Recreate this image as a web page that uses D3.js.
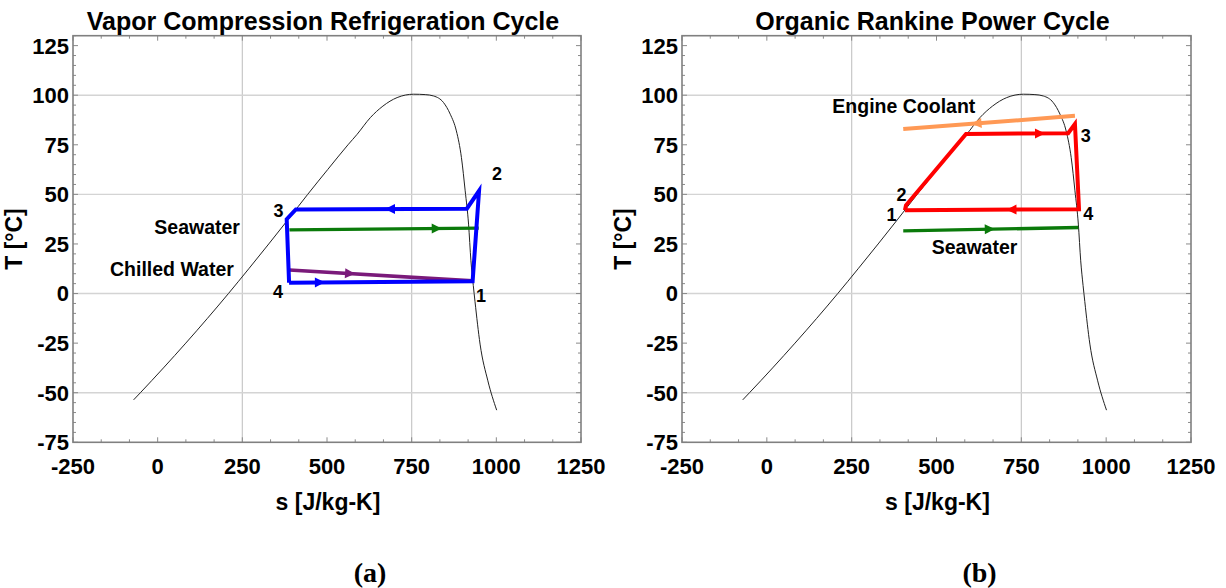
<!DOCTYPE html>
<html>
  <head>
    <title>T-s Diagrams</title>
    <style>
      body { margin: 0; background: #fff; }
      text { font-family: "Liberation Sans", Arial, sans-serif; font-weight: bold; fill: #000; }
      .caption { font-family: "Liberation Serif", "Times New Roman", serif; }
    </style>
  </head>

  <body>
    <div id="chart"></div>

    <script src="https://d3js.org/d3.v7.min.js" type="text/javascript"></script>

<script>

  // axis ticks
  var sTicks = [-250, 0, 250, 500, 750, 1000, 1250];
  var tTicks = [-75, -50, -25, 0, 25, 50, 75, 100, 125];
  var sGrid = [250, 750];
  var tGrid = [-50, 0, 50, 100];

  // saturation dome [s, T]
  var dome = [
    [-71, -53.6], [-51, -50], [17, -37.5], [83, -25], [147, -12.5], [209, 0],
    [269, 12.5], [328, 25], [386, 37.5], [443, 50], [502, 62.5], [562, 75],
    [589, 80.3], [628, 88.7], [665, 94.5], [707, 98.8], [756, 100.5], [790, 100.3],
    [815, 99.6], [844, 96.3], [864, 90.4], [882, 82], [897, 68.5],
    [908, 51.8], [918, 35], [925, 16.5], [932, 4], [937, -4], [952, -25.5],
    [975, -44], [1001, -58.8]
  ];

  // (a) vapor compression refrigeration cycle
  var vcrCycle = [[388, 5.5], [930, 6.2], [949, 51.8], [913, 42.8], [408, 42.4], [381, 37.5], [388, 5.5]];
  var vcrSeawater = [[389, 32.1], [948, 33]];
  var vcrChilled = [[389, 11.9], [930, 6.4]];
  var vcrArrows = [[479, 5.8, 1], [686, 42.6, -1], [824, 32.8, 1], [568, 10.1, 1]];
  var vcrLabels = [["Seawater", 243, 33.6, "end"], ["Chilled Water", 225, 12.4, "end"]];
  var vcrPoints = [["1", 955, -1.2], ["2", 1002, 60.5], ["3", 357, 42], ["4", 355, 0.9]];

  // (b) organic rankine power cycle
  var orcCycle = [[407, 42], [410, 44.5], [587, 80.5], [888, 80.8], [908, 85.5], [920, 42.5], [407, 42]];
  var orcCoolant = [[402, 82.9], [908, 89.6]];
  var orcSeawater = [[402, 31.6], [918, 33.3]];
  var orcArrows = [[805, 80.7, 1], [721, 42.2, -1], [618, 85.6, -1], [657, 32.5, 1]];
  var orcLabels = [["Engine Coolant", 193, 94.4, "start"], ["Seawater", 486, 23.3, "start"]];
  var orcPoints = [["1", 367.5, 40], ["2", 397, 50], ["3", 940, 79.8], ["4", 947, 40.3]];

  var W = 1226, H = 588;
  var plotTop = 35.7, plotBottom = 442.3;

  var svg = d3.select('#chart')
    .append('svg')
    .attr("width", W)
    .attr("height", H);

  function drawPanel(opts) {
    var x = d3.scaleLinear().domain([-250, 1250]).range([opts.left, opts.right]);
    var y = d3.scaleLinear().domain([-75, 130]).range([plotBottom, plotTop]);
    var g = svg.append("g");

    // grid
    g.selectAll(".vgrid").data(sGrid).enter().append("line")
      .attr("x1", function(d){return x(d);}).attr("x2", function(d){return x(d);})
      .attr("y1", plotTop).attr("y2", plotBottom)
      .attr("stroke", "#c8c8c8").attr("stroke-width", 1.2);
    g.selectAll(".hgrid").data(tGrid).enter().append("line")
      .attr("y1", function(d){return y(d);}).attr("y2", function(d){return y(d);})
      .attr("x1", opts.left).attr("x2", opts.right)
      .attr("stroke", "#d4d4d4").attr("stroke-width", 1.4);

    // minor/major ticks on all four sides, inward
    var sMinor = d3.range(-250, 1250.1, 250 / 3);
    var tMinor = d3.range(-75, 130.1, 5);
    var tk = g.append("g").attr("stroke", "#8a8a8a").attr("stroke-width", 1);
    sMinor.forEach(function(d, i) {
      var len = (i % 3 === 0) ? 5 : 3;
      tk.append("line").attr("x1", x(d)).attr("x2", x(d)).attr("y1", plotBottom).attr("y2", plotBottom - len);
      tk.append("line").attr("x1", x(d)).attr("x2", x(d)).attr("y1", plotTop).attr("y2", plotTop + len);
    });
    tMinor.forEach(function(d, i) {
      var len = (i % 5 === 0) ? 5 : 3;
      tk.append("line").attr("y1", y(d)).attr("y2", y(d)).attr("x1", opts.left).attr("x2", opts.left + len);
      tk.append("line").attr("y1", y(d)).attr("y2", y(d)).attr("x1", opts.right).attr("x2", opts.right - len);
    });

    // frame
    g.append("rect")
      .attr("x", opts.left).attr("y", plotTop)
      .attr("width", opts.right - opts.left).attr("height", plotBottom - plotTop)
      .attr("fill", "none").attr("stroke", "#808080").attr("stroke-width", 1.6);

    // tick labels
    g.selectAll(".xl").data(sTicks).enter().append("text")
      .attr("x", function(d){return x(d);}).attr("y", 474)
      .attr("text-anchor", "middle").style("font-size", "22px")
      .text(function(d){return d;});
    g.selectAll(".yl").data(tTicks).enter().append("text")
      .attr("x", opts.left - 4).attr("y", function(d){return y(d);})
      .attr("dy", "0.36em")
      .attr("text-anchor", "end").style("font-size", "22px")
      .text(function(d){return d;});

    // axis titles
    g.append("text")
      .attr("x", (opts.left + opts.right) / 2 + 1).attr("y", 510)
      .attr("text-anchor", "middle").style("font-size", "23px")
      .text("s [J/kg-K]");
    g.append("text")
      .attr("transform", "translate(" + (opts.left - 51) + "," + ((plotTop + plotBottom) / 2) + ") rotate(-90)")
      .attr("text-anchor", "middle").style("font-size", "23px")
      .text("T [°C]");
    g.append("text")
      .attr("x", (opts.left + opts.right) / 2 - 4).attr("y", 30)
      .attr("text-anchor", "middle").style("font-size", "25px")
      .text(opts.title);
    g.append("text").attr("class", "caption")
      .attr("x", (opts.left + opts.right) / 2 + 43).attr("y", 582)
      .attr("text-anchor", "middle").style("font-size", "28px")
      .text(opts.caption);

    var line = d3.line().x(function(d){return x(d[0]);}).y(function(d){return y(d[1]);});
    var smooth = d3.line().curve(d3.curveMonotoneX)
      .x(function(d){return x(d[0]);}).y(function(d){return y(d[1]);});

    // dome
    g.append("path").datum(dome).attr("d", smooth)
      .attr("fill", "none").attr("stroke", "#222").attr("stroke-width", 1);

    opts.series.forEach(function(sr) {
      g.append("path").datum(sr.data).attr("d", line)
        .attr("fill", "none").attr("stroke", sr.color)
        .attr("stroke-width", sr.width).attr("stroke-linejoin", "miter");
    });

    // arrowheads: take angle from the nearest segment of the series
    opts.arrows.forEach(function(a) {
      var px = x(a[0]), py = y(a[1]), best = null, bd = Infinity;
      opts.series.forEach(function(sr) {
        for (var i = 0; i < sr.data.length - 1; i++) {
          var x1 = x(sr.data[i][0]), y1 = y(sr.data[i][1]);
          var x2 = x(sr.data[i + 1][0]), y2 = y(sr.data[i + 1][1]);
          var dx = x2 - x1, dy = y2 - y1;
          var t = Math.max(0, Math.min(1, ((px - x1) * dx + (py - y1) * dy) / (dx * dx + dy * dy)));
          var dd = Math.hypot(px - (x1 + t * dx), py - (y1 + t * dy));
          if (dd < bd) { bd = dd; best = {color: sr.color, dx: dx, dy: dy, cx: x1 + t * dx, cy: y1 + t * dy}; }
        }
      });
      var ang = Math.atan2(best.dy, best.dx) * 180 / Math.PI;
      if ((best.dx > 0 ? 1 : -1) !== a[2]) ang += 180;
      g.append("path")
        .attr("d", "M5,0L-5,-5L-5,5Z")
        .attr("fill", best.color)
        .attr("transform", "translate(" + best.cx + "," + best.cy + ") rotate(" + ang + ")");
    });

    opts.labels.forEach(function(l) {
      g.append("text")
        .attr("x", x(l[1])).attr("y", y(l[2])).attr("dy", "0.36em")
        .attr("text-anchor", l[3]).style("font-size", "19.5px")
        .text(l[0]);
    });
    opts.points.forEach(function(p) {
      g.append("text")
        .attr("x", x(p[1])).attr("y", y(p[2])).attr("dy", "0.36em")
        .attr("text-anchor", "middle").style("font-size", "18px")
        .text(p[0]);
    });
  }

  drawPanel({
    left: 73, right: 581,
    title: "Vapor Compression Refrigeration Cycle",
    caption: "(a)",
    series: [
      {data: vcrSeawater, color: "#0a7a0a", width: 3.2},
      {data: vcrChilled, color: "#7a1a7a", width: 3.6},
      {data: vcrCycle, color: "#0000ff", width: 4}
    ],
    arrows: vcrArrows,
    labels: vcrLabels,
    points: vcrPoints
  });

  drawPanel({
    left: 682, right: 1191,
    title: "Organic Rankine Power Cycle",
    caption: "(b)",
    series: [
      {data: orcCoolant, color: "#ff9955", width: 4},
      {data: orcSeawater, color: "#0a7a0a", width: 3.4},
      {data: orcCycle, color: "#ff0000", width: 4}
    ],
    arrows: orcArrows,
    labels: orcLabels,
    points: orcPoints
  });

</script>
  </body>
</html>
